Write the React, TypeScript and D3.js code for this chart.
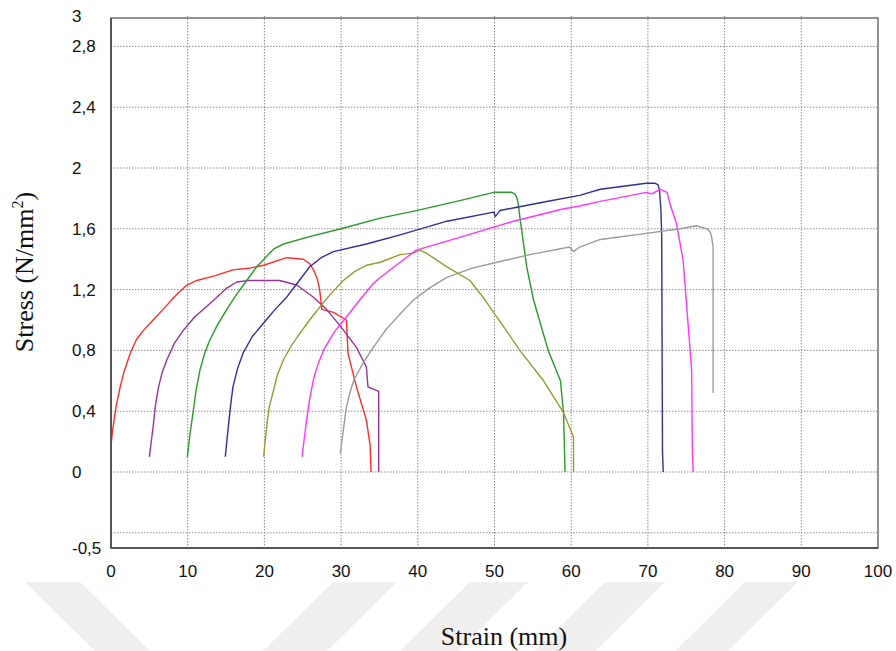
import React from "react";
import * as d3 from "d3";

const xTicks = [0, 10, 20, 30, 40, 50, 60, 70, 80, 90, 100];
const yTickValues = [3, 2.8, 2.4, 2, 1.6, 1.2, 0.8, 0.4, 0, -0.5];
const yTickLabels = ["3", "2,8", "2,4", "2", "1,6", "1,2", "0,8", "0,4", "0", "-0,5"];
const yGrid = [2.8, 2.4, 2, 1.6, 1.2, 0.8, 0.4, 0, -0.4];

const redX = [0, 0.05, 0.2, 0.4, 0.7, 1.2, 1.7, 2.5, 3.3, 4.2, 5.5, 6.8, 8.4, 9.9, 11.2, 13.5, 15.9, 18, 19.9, 22.9, 25.1, 25.9, 26.4, 26.9, 27.2, 27.5, 29, 30.7, 30.9, 32, 33.3, 33.8, 33.9];
const redY = [0.1, 0.2, 0.27, 0.34, 0.44, 0.56, 0.66, 0.78, 0.87, 0.93, 1.0, 1.07, 1.16, 1.23, 1.26, 1.29, 1.33, 1.34, 1.36, 1.41, 1.4, 1.37, 1.33, 1.27, 1.2, 1.07, 1.05, 1.0, 0.78, 0.56, 0.34, 0.17, 0];

const purpleX = [5.0, 5.5, 5.8, 6.2, 6.7, 7.3, 8.3, 9.4, 10.9, 12.5, 13.8, 15.1, 16.4, 18, 20.3, 22, 24.2, 26.4, 28.1, 29.9, 32, 33.3, 33.5, 34.9, 34.9];
const purpleY = [0.1, 0.3, 0.44, 0.56, 0.66, 0.74, 0.85, 0.93, 1.02, 1.09, 1.15, 1.21, 1.25, 1.26, 1.26, 1.26, 1.23, 1.15, 1.07, 0.96, 0.82, 0.69, 0.56, 0.53, 0];

const greenX = [9.95, 10.3, 10.7, 11.1, 11.6, 12.2, 12.9, 13.9, 15.1, 16.4, 17.7, 19, 20.3, 21.3, 22.5, 26, 30, 35.1, 39.8, 45.9, 49.9, 52.2, 52.6, 52.9, 53.1, 53.3, 54.2, 55.1, 57, 58.6, 59, 59.2];
const greenY = [0.1, 0.25, 0.39, 0.54, 0.67, 0.78, 0.87, 0.97, 1.07, 1.17, 1.26, 1.35, 1.42, 1.47, 1.5, 1.55, 1.6, 1.67, 1.72, 1.79, 1.84, 1.84, 1.83, 1.81, 1.76, 1.68, 1.35, 1.13, 0.8, 0.6, 0.39, 0];

const blueX = [14.9, 15.3, 15.6, 15.9, 16.5, 17.2, 18.4, 19.9, 21.4, 22.9, 24.4, 25.9, 27.4, 29, 33.3, 37.7, 43.8, 49.9, 50.1, 50.7, 56.8, 61.1, 63.8, 69.8, 70.9, 71.3, 71.5, 71.7, 71.8, 71.9, 72.0];
const blueY = [0.1, 0.3, 0.44, 0.56, 0.68, 0.78, 0.89, 0.98, 1.07, 1.15, 1.25, 1.35, 1.41, 1.45, 1.5, 1.56, 1.65, 1.71, 1.68, 1.72, 1.78, 1.82, 1.86, 1.9, 1.9, 1.89, 1.86, 1.72, 1.55, 0.14, 0];

const oliveX = [19.9, 20.3, 20.6, 21.1, 21.7, 22.5, 23.5, 24.6, 25.9, 27.3, 28.8, 30.3, 31.8, 33.3, 35.1, 37.7, 39.4, 40.3, 41.1, 43.8, 46.8, 48.5, 51, 53.3, 56.4, 59, 60.3, 60.3];
const oliveY = [0.1, 0.3, 0.42, 0.52, 0.64, 0.74, 0.83, 0.91, 1.0, 1.09, 1.18, 1.26, 1.32, 1.36, 1.38, 1.43, 1.44, 1.46, 1.44, 1.35, 1.26, 1.15, 0.97, 0.8, 0.6, 0.39, 0.23, 0];

const magentaX = [24.9, 25.5, 25.9, 26.4, 27.0, 27.7, 29.1, 30.7, 32.4, 34.2, 35.1, 37.7, 39.8, 45.9, 52.5, 58.9, 61.1, 63.8, 69.8, 70.5, 71.6, 72.5, 72.9, 73.7, 74.6, 75.7, 75.8, 75.9];
const magentaY = [0.1, 0.34, 0.48, 0.61, 0.71, 0.8, 0.92, 1.02, 1.13, 1.24, 1.28, 1.38, 1.46, 1.55, 1.65, 1.73, 1.75, 1.78, 1.84, 1.83, 1.86, 1.84, 1.76, 1.64, 1.39, 0.67, 0.14, 0];

const grayX = [29.9, 30.3, 30.7, 31.2, 31.7, 32.9, 34.2, 35.9, 37.7, 39.4, 41.5, 43.8, 47, 50.3, 54.6, 59.8, 60.3, 61.1, 63.8, 69.8, 74.2, 76.3, 77.7, 78.1, 78.3, 78.5, 78.5];
const grayY = [0.12, 0.28, 0.43, 0.53, 0.61, 0.72, 0.82, 0.94, 1.04, 1.13, 1.21, 1.28, 1.34, 1.38, 1.43, 1.48, 1.45, 1.48, 1.53, 1.57, 1.6, 1.62, 1.6, 1.58, 1.55, 1.48, 0.52];

const seriesColors = ["#ff2a2a", "#993399", "#2a9a2a", "#2e2e9a", "#9a9a33", "#ff33ff", "#9a9a9a"];
const seriesXs = [redX, purpleX, greenX, blueX, oliveX, magentaX, grayX];
const seriesYs = [redY, purpleY, greenY, blueY, oliveY, magentaY, grayY];

const W = 896;
const H = 651;
const plot = { left: 111, right: 878, top: 16, bottom: 548 };

export default function App() {
  const x = d3.scaleLinear().domain([0, 100]).range([plot.left, plot.right]);
  const y = d3.scaleLinear().domain([-0.5, 3]).range([plot.bottom, plot.top]);
  const line = d3
    .line<[number, number]>()
    .x((d) => x(d[0]))
    .y((d) => y(d[1]));

  const wm = "#efefef";
  return (
    <svg
      width={W}
      height={H}
      style={{ position: "absolute", left: 0, top: 0, background: "#fff" }}
    >
      {/* watermark */}
      <g fill={wm}>
        <polygon points="25,582 80,582 150,651 95,651" />
        <polygon points="333,582 397,582 327,651 263,651" />
        <polygon points="470,582 528,582 458,651 400,651" />
        <polygon points="605,582 665,582 595,651 535,651" />
        <polygon points="745,582 798,582 728,651 675,651" />
      </g>
      <rect x={70} y={0} width={812} height={582} fill="#fff" />

      {/* grid */}
      <g stroke="#8a8a8a" strokeWidth={1} strokeDasharray="1.5,1.5">
        {xTicks
          .filter((t) => t > 0 && t < 100)
          .map((t) => (
            <line key={"gx" + t} x1={x(t)} x2={x(t)} y1={plot.top} y2={plot.bottom} />
          ))}
        {yGrid.map((t) => (
          <line key={"gy" + t} x1={plot.left} x2={plot.right} y1={y(t)} y2={y(t)} />
        ))}
      </g>

      {/* curves */}
      <g fill="none" strokeWidth={1.4} strokeLinejoin="round">
        {seriesXs.map((xs, i) => {
          const pts = xs.map((v, j) => [v, seriesYs[i][j]] as [number, number]);
          return <path key={i} d={line(pts) || ""} stroke={seriesColors[i]} />;
        })}
      </g>

      {/* frame */}
      <rect
        x={plot.left}
        y={plot.top + 2}
        width={plot.right - plot.left}
        height={plot.bottom - plot.top - 2}
        fill="none"
        stroke="#6e6e6e"
        strokeWidth={1.5}
      />
      <line x1={plot.left} x2={plot.left} y1={plot.top + 2} y2={plot.bottom} stroke="#555" strokeWidth={2} />
      <line x1={plot.left} x2={plot.right} y1={plot.bottom} y2={plot.bottom} stroke="#555" strokeWidth={2} />

      {/* y tick labels */}
      <g fontFamily="'Liberation Sans', Arial, sans-serif" fontSize={17} fill="#111">
        {yTickValues.map((v, i) => (
          <text key={"yl" + i} x={72} y={y(v)} dy="0.35em">
            {yTickLabels[i]}
          </text>
        ))}
      </g>

      {/* x tick labels */}
      <g fontFamily="'Liberation Sans', Arial, sans-serif" fontSize={17} fill="#111" textAnchor="middle">
        {xTicks.map((t) => (
          <text key={"xl" + t} x={x(t)} y={577}>
            {t}
          </text>
        ))}
      </g>

      {/* axis titles */}
      <text
        x={504}
        y={645}
        textAnchor="middle"
        fontFamily="'Liberation Serif', 'Times New Roman', serif"
        fontSize={26}
        fill="#111"
      >
        Strain (mm)
      </text>
      <text
        transform="translate(33,272) rotate(-90)"
        textAnchor="middle"
        fontFamily="'Liberation Serif', 'Times New Roman', serif"
        fontSize={26}
        fill="#111"
      >
        Stress (N/mm
        <tspan fontSize={16} dy={-10}>
          2
        </tspan>
        <tspan dy={10}>)</tspan>
      </text>
    </svg>
  );
}
